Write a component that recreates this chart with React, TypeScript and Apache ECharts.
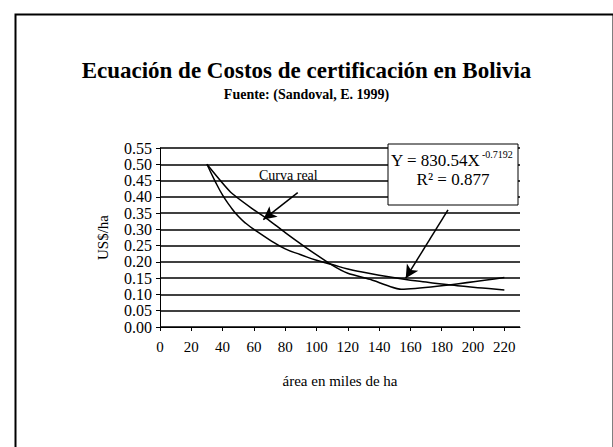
import React, { useEffect, useRef } from "react";
import * as echarts from "echarts";

const FONT = "'Liberation Serif', 'Times New Roman', serif";

// Measured ("Curva real") cost curve, US$/ha vs area (thousands of ha)
const realX = [30, 45, 60, 68, 80, 93, 110, 120, 135, 154, 220];
const realY = [0.5, 0.415, 0.36, 0.334, 0.29, 0.245, 0.19, 0.165, 0.145, 0.116, 0.152];

// Fitted power trend line
const trendX = [30, 35, 40, 45, 50, 55, 60, 70, 80, 90, 100, 110, 120, 130, 140, 150, 160, 170, 180, 190, 200, 210, 220];
const trendY = [0.5, 0.45, 0.405, 0.37, 0.34, 0.318, 0.3, 0.268, 0.24, 0.222, 0.205, 0.192, 0.178, 0.168, 0.159, 0.151, 0.144, 0.138, 0.132, 0.127, 0.122, 0.118, 0.114];

const xTicks = [0, 20, 40, 60, 80, 100, 120, 140, 160, 180, 200, 220];

// Annotation arrows (data coordinates): [fromX, fromY, toX, toY]
const arrowReal = [88, 0.413, 66, 0.33];
const arrowFit = [184, 0.36, 157, 0.15];
const labelReal = [82, 0.467];

export default function App() {
  const ref = useRef<HTMLDivElement>(null);
  useEffect(() => {
    if (!ref.current) return;
    const chart = echarts.init(ref.current, null, { renderer: "svg" });
    const realData = realX.map((x, i) => [x, realY[i]]);
    const trendData = trendX.map((x, i) => [x, trendY[i]]);
    chart.setOption({
      animation: false,
      backgroundColor: "#ffffff",
      title: {
        text: "Ecuación de Costos de certificación en Bolivia",
        subtext: "Fuente: (Sandoval, E. 1999)",
        left: "center",
        top: 59,
        padding: 0,
        itemGap: 5,
        textStyle: { fontFamily: FONT, fontSize: 23, fontWeight: "bold", color: "#000" },
        subtextStyle: { fontFamily: FONT, fontSize: 14, fontWeight: "bold", color: "#000" },
      },
      grid: { left: 160, right: 93, top: 148, bottom: 120, containLabel: false },
      xAxis: {
        type: "value",
        min: 0,
        max: 230,
        interval: 20,
        name: "área en miles de ha",
        nameLocation: "middle",
        nameGap: 46,
        nameTextStyle: { fontFamily: FONT, fontSize: 15, color: "#000" },
        axisLine: { show: true, onZero: false, lineStyle: { color: "#000", width: 1 } },
        axisTick: { show: true, length: 4, lineStyle: { color: "#000" }, customValues: xTicks },
        axisLabel: { fontFamily: FONT, fontSize: 15, color: "#000", margin: 12, customValues: xTicks },
        splitLine: { show: false },
      },
      yAxis: {
        type: "value",
        min: 0,
        max: 0.55,
        interval: 0.05,
        name: "US$/ha",
        nameLocation: "middle",
        nameGap: 50,
        nameRotate: 90,
        nameTextStyle: { fontFamily: FONT, fontSize: 15, color: "#000" },
        axisLine: { show: true, lineStyle: { color: "#000", width: 1 } },
        axisTick: { show: true, length: 4, lineStyle: { color: "#000" } },
        axisLabel: {
          fontFamily: FONT,
          fontSize: 16,
          color: "#000",
          margin: 8,
          formatter: (v: number) => v.toFixed(2),
        },
        splitLine: { show: true, lineStyle: { color: "#000", width: 1.6 } },
      },
      series: [
        {
          name: "Curva real",
          type: "line",
          data: realData,
          showSymbol: false,
          smooth: 0.2,
          lineStyle: { color: "#000", width: 1.5 },
          markLine: {
            silent: true,
            symbol: ["none", "arrow"],
            symbolSize: [10, 13],
            lineStyle: { color: "#000", width: 1.5, type: "solid" },
            label: { show: false },
            data: [
              [{ coord: [arrowReal[0], arrowReal[1]] }, { coord: [arrowReal[2], arrowReal[3]] }],
              [{ coord: [arrowFit[0], arrowFit[1]] }, { coord: [arrowFit[2], arrowFit[3]] }],
            ],
          },
          markPoint: {
            silent: true,
            symbol: "rect",
            symbolSize: 0.001,
            label: {
              show: true,
              formatter: "Curva real",
              fontFamily: FONT,
              fontSize: 14,
              color: "#000",
              position: "inside",
            },
            data: [{ coord: labelReal }],
          },
        },
        {
          name: "Tendencia",
          type: "line",
          data: trendData,
          showSymbol: false,
          smooth: true,
          lineStyle: { color: "#000", width: 1.5 },
        },
      ],
      graphic: [
        {
          type: "rect",
          left: 13,
          top: 12,
          shape: { x: 0, y: 0, width: 598, height: 450 },
          style: { fill: "none", stroke: "#000", lineWidth: 2 },
          z: 100,
        },
        {
          type: "rect",
          shape: { x: 388, y: 144, width: 130, height: 61 },
          style: { fill: "#fff", stroke: "#000", lineWidth: 1 },
          z: 100,
        },
        {
          type: "text",
          x: 391,
          y: 160,
          style: { text: "Y = 830.54X", fontFamily: FONT, fontSize: 17, fill: "#000", verticalAlign: "middle" },
          z: 101,
        },
        {
          type: "text",
          x: 482,
          y: 154,
          style: { text: "-0.7192", fontFamily: FONT, fontSize: 10, fill: "#000", verticalAlign: "middle" },
          z: 101,
        },
        {
          type: "text",
          x: 453,
          y: 179,
          style: { text: "R² = 0.877", fontFamily: FONT, fontSize: 17, fill: "#000", align: "center", verticalAlign: "middle" },
          z: 101,
        },
      ],
    });
    return () => chart.dispose();
  }, []);
  return (
    <div
      ref={ref}
      style={{ position: "fixed", left: 0, top: 0, width: 613, height: 447, background: "#fff" }}
    />
  );
}
